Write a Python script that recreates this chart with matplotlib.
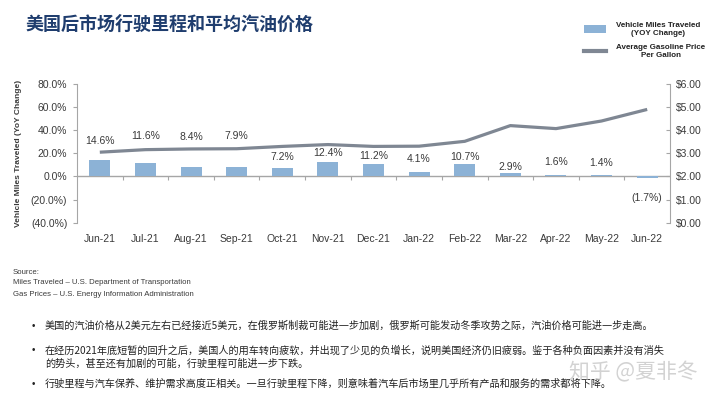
import matplotlib
matplotlib.use("Agg")
import matplotlib.pyplot as plt
import numpy as np
from matplotlib.patches import Patch
from matplotlib.lines import Line2D

# ---- data ----
months = ["Jun-21", "Jul-21", "Aug-21", "Sep-21", "Oct-21", "Nov-21", "Dec-21",
          "Jan-22", "Feb-22", "Mar-22", "Apr-22", "May-22", "Jun-22"]
vmt_yoy = [14.6, 11.6, 8.4, 7.9, 7.2, 12.4, 11.2, 4.1, 10.7, 2.9, 1.6, 1.4, -1.7]
gas_price = [3.05, 3.16, 3.19, 3.20, 3.30, 3.38, 3.30, 3.31, 3.52, 4.20, 4.07, 4.40, 4.90]
left_ticks = [80, 60, 40, 20, 0, -20, -40]
right_ticks = [6, 5, 4, 3, 2, 1, 0]

# layout: where the value labels sit (percent axis units)
label_y = [31, 35, 34, 35, 17, 20, 18, 15, 17, 8.5, 12.5, 12, -18.5]

title = "美国后市场行驶里程和平均汽油价格"
source_lines = ["Source:",
                "Miles Traveled \u2013 U.S. Department of Transportation",
                "Gas Prices \u2013 U.S. Energy Information Administration"]
bullets = [
    ["美国的汽油价格从2美元左右已经接近5美元，在俄罗斯制裁可能进一步加剧，俄罗斯可能发动冬季攻势之际，汽油价格可能进一步走高。"],
    ["在经历2021年底短暂的回升之后，美国人的用车转向疲软，并出现了少见的负增长，说明美国经济仍旧疲弱。鉴于各种负面因素并没有消失",
     "的势头，甚至还有加剧的可能，行驶里程可能进一步下跌。"],
    ["行驶里程与汽车保养、维护需求高度正相关。一旦行驶里程下降，则意味着汽车后市场里几乎所有产品和服务的需求都将下降。"],
]

CJK = ["Noto Sans CJK SC", "DejaVu Sans"]
LAT = ["Liberation Sans", "DejaVu Sans"]
NARROW = ["Liberation Sans Narrow", "Liberation Sans", "DejaVu Sans"]
TXT = "#3a3a3a"
SPINE = "#a6a6a6"
BAR = "#8cb2d6"
LINE = "#7f8793"

fig = plt.figure(figsize=(7.2, 4.05), dpi=100)
fig.patch.set_facecolor("white")

W, H = 720.0, 405.0
ax_l, ax_r, ax_t, ax_b = 77, 670, 84, 222.7
ax = fig.add_axes([ax_l / W, 1 - ax_b / H, (ax_r - ax_l) / W, (ax_b - ax_t) / H])
ax2 = ax.twinx()

x = np.arange(len(months))
bars = ax.bar(x, vmt_yoy, width=0.46, color=BAR, zorder=2)
ax.set_xlim(-0.5, len(months) - 0.5)
ax.set_ylim(-40, 80)
ax.set_yticks(left_ticks)
ax.set_yticklabels([f"{v:.1f}%" if v >= 0 else f"({abs(v):.1f}%)" for v in left_ticks],
                   family=LAT, fontsize=7.5, color=TXT)
ax.set_xticks(x)
ax.set_xticklabels(months, family=LAT, fontsize=7.5, color=TXT)
ax.tick_params(axis="x", length=0, pad=8)
ax.tick_params(axis="y", length=3, width=0.8, color=SPINE, direction="out", pad=4)
for s in ["top", "bottom", "right"]:
    ax.spines[s].set_visible(False)
ax.spines["left"].set_color(SPINE)
ax.spines["left"].set_linewidth(0.8)
ax.patch.set_visible(False)

# zero line with boundary ticks
ax.axhline(0, color=SPINE, lw=1.0, zorder=1)
ax.vlines(x[:-1] + 0.5, -2.8, 0, color=SPINE, lw=0.8, zorder=1)

for xi, v, ly in zip(x, vmt_yoy, label_y):
    s = f"{v:.1f}%" if v >= 0 else f"({abs(v):.1f}%)"
    ax.text(xi, ly, s, ha="center", va="center", family=LAT, fontsize=7.5, color=TXT)

ax.set_ylabel("Vehicle Miles Traveled (YoY Change)", family=NARROW, fontsize=6,
              fontweight="bold", color=TXT, labelpad=6)

line, = ax2.plot(x, gas_price, color=LINE, lw=2.3, zorder=3, solid_capstyle="butt")
ax2.set_ylim(0, 6)
ax2.set_yticks(right_ticks)
ax2.set_yticklabels([f"${v:.2f}" for v in right_ticks], family=LAT, fontsize=7.5, color=TXT)
ax2.tick_params(axis="y", length=3, width=0.8, color=SPINE, direction="in", pad=4)
for s in ["top", "bottom", "left"]:
    ax2.spines[s].set_visible(False)
ax2.spines["right"].set_color(SPINE)
ax2.spines["right"].set_linewidth(0.8)
ax.set_zorder(ax2.get_zorder() + 1)

# title
fig.text(26 / W, 1 - 24 / H, title, family=CJK, fontsize=13, fontweight="bold",
         color="#1f3d6e", ha="left", va="center")

# legend
handles = [Patch(facecolor=BAR, edgecolor="none"),
           Line2D([0], [0], color=LINE, lw=3)]
labels = ["Vehicle Miles Traveled\n(YOY Change)", "Average Gasoline Price\nPer Gallon"]
leg = fig.legend(handles, labels, loc="upper left", bbox_to_anchor=(580 / W, 1 - 18 / H),
                 frameon=False, prop={"family": NARROW, "size": 5.8, "weight": "bold"},
                 handlelength=2.7, handleheight=1.2, handletextpad=1.3, labelspacing=0.9,
                 borderpad=0)
for t in leg.get_texts():
    t.set_multialignment("center")
    t.set_color("#222222")

# source
for i, s in enumerate(source_lines):
    fig.text(13 / W, 1 - (272 + 11 * i) / H, s, family=LAT, fontsize=5.6, color=TXT,
             ha="left", va="center")

# bullets
ys = [326, 350, 384]
for y0, blines in zip(ys, bullets):
    fig.text(32 / W, 1 - y0 / H, "\u2022", family=LAT, fontsize=7, color="#222222",
             ha="left", va="center")
    for j, bl in enumerate(blines):
        fig.text(45 / W, 1 - (y0 + 13.5 * j) / H, bl, family=CJK, fontsize=7.3,
                 color="#222222", ha="left", va="center")

# watermark
fig.text(633 / W, 1 - 372 / H, "知乎 @夏非冬", family=CJK, fontsize=15, color="#c4c4c4",
         alpha=0.75, ha="center", va="center")

fig.savefig("out.png", dpi=100, facecolor="white")
